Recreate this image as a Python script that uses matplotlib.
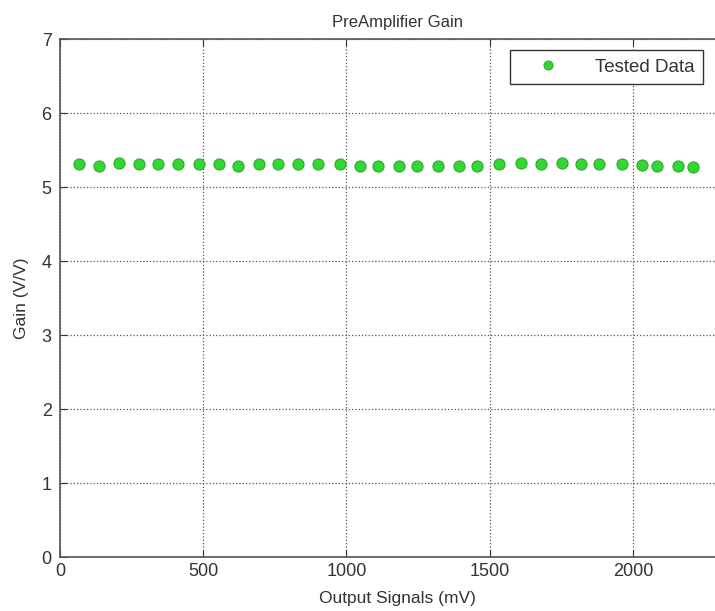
import matplotlib.pyplot as plt

plt.rcParams['font.family'] = ['Liberation Sans', 'DejaVu Sans']

# data
output_mv = [65, 137, 207, 274, 343, 412, 484, 555, 623, 694, 762, 832, 900, 976,
             1046, 1109, 1182, 1246, 1319, 1391, 1455, 1531, 1610, 1679, 1752, 1818,
             1883, 1961, 2030, 2083, 2158, 2210]
gain = [5.31, 5.29, 5.33, 5.31, 5.31, 5.31, 5.31, 5.31, 5.29, 5.31, 5.31, 5.31,
        5.31, 5.31, 5.29, 5.29, 5.29, 5.29, 5.29, 5.29, 5.29, 5.31, 5.33, 5.31,
        5.33, 5.31, 5.31, 5.31, 5.30, 5.29, 5.29, 5.27]
x_ticks = [0, 500, 1000, 1500, 2000]
y_ticks = [0, 1, 2, 3, 4, 5, 6, 7]

fig = plt.figure(figsize=(7.15, 6.11), dpi=100)
# axes run slightly past the right edge of the picture, as in the cropped original
ax = fig.add_axes([60 / 715, 54 / 611, 675 / 715, 518 / 611])

ax.plot(output_mv, gain, linestyle='none', marker='o', markersize=8,
        markerfacecolor='#33d633', markeredgecolor='#28b028', markeredgewidth=0.8,
        label='Tested Data')

ax.set_xlim(0, 675 / 0.2865)
ax.set_ylim(0, 7)
ax.set_xticks(x_ticks)
ax.set_yticks(y_ticks)
ax.tick_params(direction='in', length=5, top=True, right=True,
               labelsize=13, colors='#333333', pad=4)
ax.tick_params(axis='y', pad=6)
ax.grid(True, linestyle=':', color='#555555', linewidth=0.9)

for s in ax.spines.values():
    s.set_color('#555555')
    s.set_linewidth(1.2)

ax.set_title('PreAmplifier Gain', fontsize=12, color='#333333', pad=9)
ax.set_xlabel('Output Signals (mV)', fontsize=12.5, color='#333333', labelpad=8)
ax.set_ylabel('Gain (V/V)', fontsize=12.5, color='#333333', labelpad=9)

leg = ax.legend(loc='upper right', bbox_to_anchor=((703 - 60) / 675, 1 - 11 / 518),
                fontsize=13.5, frameon=True, fancybox=False, borderpad=0.45,
                handlelength=3.2, handletextpad=0.9, borderaxespad=0, markerscale=0.8)
leg.get_frame().set_edgecolor('#333333')
leg.get_frame().set_linewidth(1.0)
leg.get_frame().set_alpha(1)
for t in leg.get_texts():
    t.set_color('#333333')

plt.savefig('out.png', dpi=100)
